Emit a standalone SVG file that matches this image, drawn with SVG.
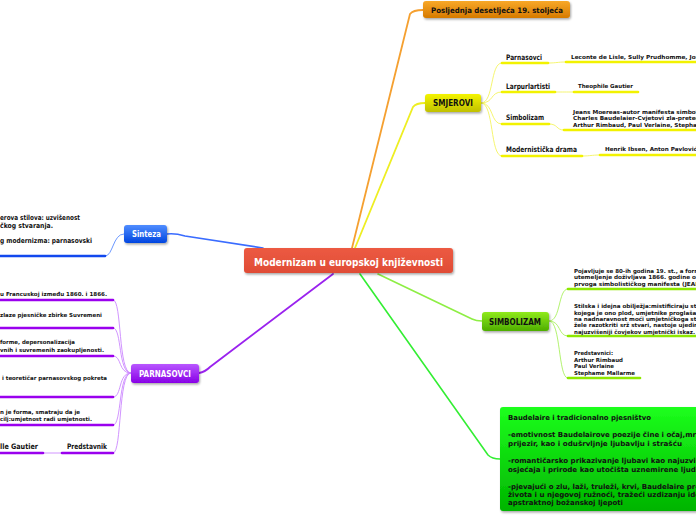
<svg xmlns="http://www.w3.org/2000/svg" width="696" height="520" viewBox="0 0 696 520">
<defs>
<filter id="sh" x="-10%" y="-20%" width="130%" height="160%"><feDropShadow dx="1" dy="1.5" stdDeviation="1" flood-color="#000" flood-opacity="0.35"/></filter>
<linearGradient id="gO" x1="0" y1="0" x2="0" y2="1"><stop offset="0" stop-color="#f8a828"/><stop offset="1" stop-color="#d67a00"/></linearGradient>
<linearGradient id="gY" x1="0" y1="0" x2="0" y2="1"><stop offset="0" stop-color="#f4f400"/><stop offset="1" stop-color="#c0c000"/></linearGradient>
<linearGradient id="gB" x1="0" y1="0" x2="0" y2="1"><stop offset="0" stop-color="#4f8dff"/><stop offset="1" stop-color="#0045e0"/></linearGradient>
<linearGradient id="gP" x1="0" y1="0" x2="0" y2="1"><stop offset="0" stop-color="#b857ff"/><stop offset="1" stop-color="#8800e6"/></linearGradient>
<linearGradient id="gL" x1="0" y1="0" x2="0" y2="1"><stop offset="0" stop-color="#90ea1c"/><stop offset="1" stop-color="#4eae00"/></linearGradient>
<linearGradient id="gG" x1="0" y1="0" x2="0" y2="1"><stop offset="0" stop-color="#1cff1c"/><stop offset="1" stop-color="#00b400"/></linearGradient>
<linearGradient id="gR" x1="0" y1="0" x2="0" y2="1"><stop offset="0" stop-color="#ec5a42"/><stop offset="1" stop-color="#e04c36"/></linearGradient>
</defs>
<style>
text{font-family:"DejaVu Sans","Liberation Sans",sans-serif;font-weight:bold;fill:#111}
.w{fill:#fff}
.s{font-size:5.5px}
.m{font-size:7px}
.c{fill:none;stroke-linecap:round}
.ul{fill:none;stroke-width:2.6;stroke-linecap:round}
</style>

<g id="connectors">
<path class="c" d="M352,248 L410,14 Q413,10 423,10" stroke="#f5a030" stroke-width="1.8"/>
<path class="c" d="M355,248 L413,107 Q416,103 425,103" stroke="#eeee22" stroke-width="1.8"/>
<path class="c" d="M263,248 L185,236 Q175,233 167,234" stroke="#3a6cff" stroke-width="1.6"/>
<path class="c" d="M333,274 L210,367 Q205,372 199,373" stroke="#9a22ee" stroke-width="1.8"/>
<path class="c" d="M378,274 L472,319 Q476,321 482,321" stroke="#8eee44" stroke-width="1.6"/>
<path class="c" d="M360,274 L488,455 Q492,459 500,459" stroke="#33ee33" stroke-width="1.6"/>
<!-- SMJEROVI branches -->
<g stroke="#f4f460" stroke-width="0.9" fill="none">
<path d="M481,103 C494,103 490,63 502,63"/>
<path d="M481,103 C494,103 490,92 502,92"/>
<path d="M481,103 C494,103 490,124 502,124"/>
<path d="M481,103 C494,103 490,156 502,156"/>
<path d="M548,63 C557,63 557,62 566,62"/>
<path d="M555,92 C564,92 565,92 574,92"/>
<path d="M549,124 C558,124 556,130 564,130"/>
<path d="M582,156 C591,156 591,155 600,155"/>
</g>
<g class="ul" stroke="#f2f200">
<path d="M502,63 H548"/><path d="M566,62 H700"/>
<path d="M502,92 H555"/><path d="M574,92 H638"/>
<path d="M502,124 H549"/><path d="M564,130 H700"/>
<path d="M502,156 H582"/><path d="M600,155 H700"/>
</g>
<!-- Sinteza branch -->
<path d="M124,234 C113,234 113,256 105,256" fill="none" stroke="#5a8cff" stroke-width="0.9"/>
<path class="ul" d="M-4,256 H105" stroke="#1148ee"/>
<!-- PARNASOVCI branches -->
<g stroke="#cc88ff" stroke-width="0.9" fill="none">
<path d="M131,373 C118,373 122,300 113,300"/>
<path d="M131,373 C118,373 122,328 113,328"/>
<path d="M131,373 C118,373 122,356 113,356"/>
<path d="M131,373 C118,373 122,397 113,397"/>
<path d="M131,373 C118,373 122,425 113,425"/>
<path d="M131,373 C118,373 122,453 113,453"/>
<path d="M62,453 H43"/>
</g>
<g class="ul" stroke="#9a00ee">
<path d="M-4,300 H113"/><path d="M-4,328 H113"/><path d="M-4,356 H113"/>
<path d="M-4,397 H113"/><path d="M-4,425 H113"/>
<path d="M62,453 H113"/><path d="M-4,453 H43"/>
</g>
<!-- SIMBOLIZAM branches -->
<g stroke="#aaf060" stroke-width="0.9" fill="none">
<path d="M549,321 C561,321 558,289 568,289"/>
<path d="M549,321 C561,321 558,336 568,336"/>
<path d="M549,321 C561,321 558,378 568,378"/>
</g>
<g class="ul" stroke="#8ee800">
<path d="M568,289 H700"/><path d="M568,336 H700"/><path d="M568,378 H640"/>
</g>
</g>

<g id="center">
<rect x="244" y="248" width="209" height="25" rx="3" fill="url(#gR)" filter="url(#sh)"/>
<text class="w" x="254" y="265.5" font-size="10" textLength="189" lengthAdjust="spacingAndGlyphs">Modernizam u europskoj književnosti</text>
</g>

<g id="posljednja">
<rect x="423" y="1" width="147" height="17" rx="3" fill="url(#gO)" filter="url(#sh)"/>
<text x="431" y="13" font-size="7.5" textLength="132" lengthAdjust="spacingAndGlyphs">Posljednja desetljeća 19. stoljeća</text>
</g>

<g id="smjerovi">
<rect x="425" y="94" width="56" height="18" rx="3" fill="url(#gY)" filter="url(#sh)"/>
<text x="433" y="106" font-size="8" textLength="40" lengthAdjust="spacingAndGlyphs">SMJEROVI</text>
</g>
<g id="smjerovi-parnasovci">
<text x="506" y="60" font-size="7.5" textLength="36" lengthAdjust="spacingAndGlyphs">Parnasovci</text>
<text class="s" x="571" y="59" textLength="132" lengthAdjust="spacingAndGlyphs">Leconte de Lisle, Sully Prudhomme, Jose</text>
</g>
<g id="smjerovi-larpurlartisti">
<text x="506" y="89" font-size="7.5" textLength="44" lengthAdjust="spacingAndGlyphs">Larpurlartisti</text>
<text class="s" x="578" y="88" textLength="55" lengthAdjust="spacingAndGlyphs">Theophile Gautier</text>
</g>
<g id="smjerovi-simbolizam">
<text x="506" y="120" font-size="7.5" textLength="38" lengthAdjust="spacingAndGlyphs">Simbolizam</text>
<text class="s" x="573" y="114" textLength="130" lengthAdjust="spacingAndGlyphs">Jeans Moereas-autor manifesta simboliz</text>
<text class="s" x="573" y="120" textLength="130" lengthAdjust="spacingAndGlyphs">Charles Baudelaier-Cvjetovi zla-preteča</text>
<text class="s" x="573" y="126.5" textLength="128" lengthAdjust="spacingAndGlyphs">Arthur Rimbaud, Paul Verlaine, Stephan</text>
</g>
<g id="smjerovi-drama">
<text x="506" y="152" font-size="7.5" textLength="71" lengthAdjust="spacingAndGlyphs">Modernistička drama</text>
<text class="s" x="605" y="151" textLength="92" lengthAdjust="spacingAndGlyphs">Henrik Ibsen, Anton Pavlović</text>
</g>

<g id="sinteza">
<rect x="124" y="225" width="43" height="18" rx="3" fill="url(#gB)" filter="url(#sh)"/>
<text class="w" x="132" y="237" font-size="8" textLength="29" lengthAdjust="spacingAndGlyphs">Sinteza</text>
</g>
<g id="sinteza-tekst">
<text class="m" x="0" y="219.5" textLength="80" lengthAdjust="spacingAndGlyphs">erova stilova: uzvišenost</text>
<text class="m" x="0" y="227.5" textLength="53" lengthAdjust="spacingAndGlyphs">čkog stvaranja.</text>
<text class="m" x="0" y="243" textLength="92" lengthAdjust="spacingAndGlyphs">g modernizma: parnasovski</text>
</g>

<g id="parnasovci">
<rect x="131" y="364" width="68" height="19" rx="3" fill="url(#gP)" filter="url(#sh)"/>
<text class="w" x="139" y="376.5" font-size="8" textLength="52" lengthAdjust="spacingAndGlyphs">PARNASOVCI</text>
</g>
<g id="parnasovci-1"><text class="s" x="0" y="296" textLength="107" lengthAdjust="spacingAndGlyphs">u Francuskoj između 1860. i 1866.</text></g>
<g id="parnasovci-2"><text class="s" x="0" y="316.5" textLength="102" lengthAdjust="spacingAndGlyphs">zlaze pjesničke zbirke Suvremeni</text></g>
<g id="parnasovci-3">
<text class="s" x="0" y="344" textLength="75" lengthAdjust="spacingAndGlyphs">forme, depersonalizacija</text>
<text class="s" x="0" y="351.5" textLength="104" lengthAdjust="spacingAndGlyphs">vnih i suvremenih zaokupljenosti.</text>
</g>
<g id="parnasovci-4"><text class="s" x="2" y="379.5" textLength="105" lengthAdjust="spacingAndGlyphs">i teoretičar parnasovskog pokreta</text></g>
<g id="parnasovci-5">
<text class="s" x="0" y="413.5" textLength="80" lengthAdjust="spacingAndGlyphs">n je forma, smatraju da je</text>
<text class="s" x="0" y="420.5" textLength="92" lengthAdjust="spacingAndGlyphs">cilj:umjetnost radi umjetnosti.</text>
</g>
<g id="parnasovci-predstavnik">
<text x="67" y="448.5" font-size="7.5" textLength="40" lengthAdjust="spacingAndGlyphs">Predstavnik</text>
<text x="0" y="448.5" font-size="7.5" textLength="38" lengthAdjust="spacingAndGlyphs">lle Gautier</text>
</g>

<g id="simbolizam">
<rect x="482" y="312" width="67" height="19" rx="3" fill="url(#gL)" filter="url(#sh)"/>
<text x="489" y="325" font-size="8" textLength="52" lengthAdjust="spacingAndGlyphs">SIMBOLIZAM</text>
</g>
<g id="simbolizam-1">
<text class="s" x="574" y="272.5" textLength="126" lengthAdjust="spacingAndGlyphs">Pojavljuje se 80-ih godina 19. st., a form</text>
<text class="s" x="574" y="279" textLength="126" lengthAdjust="spacingAndGlyphs">utemeljenje doživljava 1866. godine ob</text>
<text class="s" x="574" y="285.5" textLength="126" lengthAdjust="spacingAndGlyphs">prvoga simbolističkog manifesta (JEAN</text>
</g>
<g id="simbolizam-2">
<text class="s" x="574" y="308" textLength="126" lengthAdjust="spacingAndGlyphs">Stilska i idejna obilježja:mistificiraju stv</text>
<text class="s" x="574" y="314.5" textLength="126" lengthAdjust="spacingAndGlyphs">kojega je ono plod, umjetnike proglašav</text>
<text class="s" x="574" y="320.5" textLength="126" lengthAdjust="spacingAndGlyphs">na nadnaravnost moći umjetničkoga stv</text>
<text class="s" x="574" y="327" textLength="126" lengthAdjust="spacingAndGlyphs">žele razotkriti srž stvari, nastoje ujedini</text>
<text class="s" x="574" y="333.5" textLength="121" lengthAdjust="spacingAndGlyphs">najuzvišeniji čovjekov umjetnički iskaz.</text>
</g>
<g id="simbolizam-3">
<text class="s" x="574" y="355" textLength="39" lengthAdjust="spacingAndGlyphs">Predstavnici:</text>
<text class="s" x="574" y="361.5" textLength="49" lengthAdjust="spacingAndGlyphs">Arthur Rimbaud</text>
<text class="s" x="574" y="368" textLength="40" lengthAdjust="spacingAndGlyphs">Paul Verlaine</text>
<text class="s" x="574" y="374.5" textLength="61" lengthAdjust="spacingAndGlyphs">Stephame Mallarme</text>
</g>

<g id="baudelaire">
<rect x="500" y="407" width="206" height="104" rx="3" fill="url(#gG)" filter="url(#sh)"/>
<text class="m" x="508" y="419.5" textLength="143" lengthAdjust="spacingAndGlyphs">Baudelaire i tradicionalno pjesništvo</text>
<text class="m" x="508" y="437" textLength="192" lengthAdjust="spacingAndGlyphs">-emotivnost Baudelairove poezije čine i očaj,mrž</text>
<text class="m" x="508" y="445.5" textLength="174" lengthAdjust="spacingAndGlyphs">prijezir, kao i odušrvljnje ljubavlju i strašću</text>
<text class="m" x="508" y="463" textLength="192" lengthAdjust="spacingAndGlyphs">-romantičarsko prikazivanje ljubavi kao najuzvis</text>
<text class="m" x="508" y="471.5" textLength="192" lengthAdjust="spacingAndGlyphs">osjećaja i prirode kao utočišta uznemirene ljuds</text>
<text class="m" x="508" y="489" textLength="192" lengthAdjust="spacingAndGlyphs">-pjevajući o zlu, laži, truleži, krvi, Baudelaire pre</text>
<text class="m" x="508" y="497" textLength="192" lengthAdjust="spacingAndGlyphs">života i u njegovoj ružnoći, tražeći uzdizanju ide</text>
<text class="m" x="508" y="505" textLength="115" lengthAdjust="spacingAndGlyphs">apstraktnoj božanskoj ljepoti</text>
</g>
</svg>
